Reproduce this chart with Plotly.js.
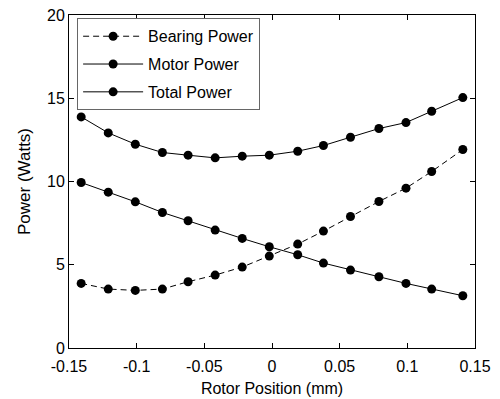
<!DOCTYPE html>
<html>
<head>
<meta charset="utf-8">
<script src="https://cdn.plot.ly/plotly-3.0.1.min.js"></script>
<style>html,body{margin:0;padding:0;background:#fff;}#chart{width:500px;height:399px;}</style>
</head>
<body>
<div id="chart"></div>
<script>
const rotorPosition = [-0.141, -0.121, -0.101, -0.081, -0.062, -0.042, -0.022, -0.002, 0.019, 0.038, 0.058, 0.079, 0.099, 0.118, 0.141];
const bearingPower = [3.88, 3.54, 3.46, 3.54, 3.98, 4.38, 4.86, 5.52, 6.24, 7.02, 7.90, 8.80, 9.60, 10.60, 11.92];
const motorPower   = [9.94, 9.36, 8.78, 8.14, 7.64, 7.08, 6.58, 6.08, 5.60, 5.10, 4.68, 4.28, 3.88, 3.54, 3.14];
const totalPower   = [13.88, 12.92, 12.24, 11.74, 11.58, 11.42, 11.52, 11.58, 11.82, 12.16, 12.66, 13.18, 13.54, 14.22, 15.04];
const seriesNames = ['Bearing Power', 'Motor Power', 'Total Power'];
const xTicks = [-0.15, -0.1, -0.05, 0, 0.05, 0.1, 0.15];
const xTickText = ['-0.15', '-0.1', '-0.05', '0', '0.05', '0.1', '0.15'];
const yTicks = [0, 5, 10, 15, 20];

const FONT = 'Liberation Sans, Arial, Helvetica, sans-serif';
const mk = {color: '#000', size: 9};
const traces = [
  {x: rotorPosition, y: bearingPower, name: seriesNames[0], mode: 'lines+markers', legendgroup: 'g1',
   line: {color: '#000', width: 1, dash: '6px,4px'}, marker: mk},
  {x: rotorPosition, y: motorPower, name: seriesNames[1], mode: 'lines+markers', legendgroup: 'g2',
   line: {color: '#000', width: 1}, marker: mk},
  {x: rotorPosition, y: totalPower, name: seriesNames[2], mode: 'lines+markers', legendgroup: 'g3',
   line: {color: '#000', width: 1}, marker: mk}
];
const axisCommon = {
  showline: true, linecolor: '#000', linewidth: 1, mirror: 'ticks',
  ticks: 'inside', ticklen: 5, tickcolor: '#000', showgrid: false, zeroline: false,
  tickfont: {family: FONT, size: 16, color: '#000'}
};
const layout = {
  width: 500, height: 399,
  margin: {l: 69, r: 25, t: 15, b: 51},
  paper_bgcolor: '#fff', plot_bgcolor: '#fff',
  showlegend: true,
  font: {family: FONT, color: '#000'},
  xaxis: Object.assign({}, axisCommon, {
    range: [-0.15, 0.15], tickvals: xTicks, ticktext: xTickText, ticklabelstandoff: 4,
    title: {text: 'Rotor Position (mm)', font: {family: FONT, size: 16, color: '#000'}, standoff: 8}
  }),
  yaxis: Object.assign({}, axisCommon, {
    range: [0, 20], tickvals: yTicks,
    title: {text: 'Power (Watts)', font: {family: FONT, size: 17, color: '#000'}, standoff: 12}
  }),
  legend: {
    x: 0.02, y: 0.99, xanchor: 'left', yanchor: 'top',
    bgcolor: '#fff', bordercolor: '#666', borderwidth: 1,
    font: {family: FONT, size: 16, color: '#000'},
    itemwidth: 60, traceorder: 'grouped', tracegroupgap: 4
  }
};
Plotly.newPlot('chart', traces, layout, {displayModeBar: false, staticPlot: true});
</script>
</body>
</html>
